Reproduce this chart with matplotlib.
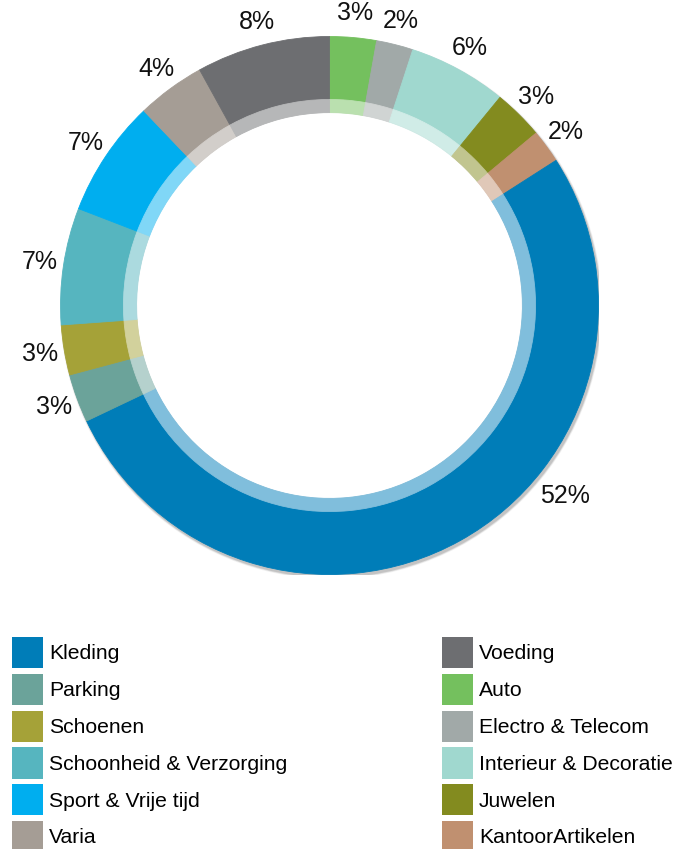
import matplotlib
matplotlib.use("Agg")
import matplotlib.pyplot as plt
from matplotlib.patches import Patch, Circle
import matplotlib.colors as mcolors
import numpy as np

plt.rcParams['font.family'] = ['Liberation Sans', 'DejaVu Sans']

# Legend order
categories = ["Kleding", "Parking", "Schoenen", "Schoonheid & Verzorging",
              "Sport & Vrije tijd", "Varia", "Voeding", "Auto",
              "Electro & Telecom", "Interieur & Decoratie", "Juwelen",
              "KantoorArtikelen"]
values = [51.9, 2.9, 3.0, 7.0, 7.0, 4.1, 8.0, 2.8, 2.2, 5.9, 3.0, 2.0]
labels = ["52%", "3%", "3%", "7%", "7%", "4%", "8%", "3%", "2%", "6%", "3%", "2%"]
colors = ["#007DB8", "#6BA39A", "#A5A238", "#56B5BF", "#00AEEF", "#A59D95",
          "#6D6E71", "#74C05E", "#A1A9A8", "#A0D8CF", "#838B1F", "#C09070"]

# label placement tweak (style): category -> (angle in degrees, radius)
label_override = {"Kleding": (-39.0, 1.124)}

# Pie drawing order: clockwise starting at top with "Auto"
order = list(range(7, 12)) + list(range(0, 7))
pv = [values[i] for i in order]
pc = [colors[i] for i in order]
pl = [labels[i] for i in order]
pn = [categories[i] for i in order]


def lighten(c, f=0.5):
    r, g, b = mcolors.to_rgb(c)
    return (r + (1 - r) * f, g + (1 - g) * f, b + (1 - b) * f)


pc_light = [lighten(c) for c in pc]

R_OUT = 269.0
fig = plt.figure(figsize=(6.81, 8.49), dpi=100)
cx, cy = 329.5, 305.5
ax = fig.add_axes([(cx - R_OUT) / 681, 1 - (cy + R_OUT) / 849,
                   2 * R_OUT / 681, 2 * R_OUT / 849])

# soft drop shadow
for dr, a in [(0.016, 0.05), (0.011, 0.08), (0.006, 0.12)]:
    ax.add_patch(Circle((0.006, -0.009), 1.0 + dr * 0.5, facecolor="#000000",
                        alpha=a, edgecolor="none", zorder=0))
ax.add_patch(Circle((0, 0), 0.717, facecolor="white", edgecolor="none", zorder=0.5))

d_in = 0.766
l_in = 0.717
wedges, texts = ax.pie(pv, colors=pc, startangle=90, counterclock=False,
                       radius=1.0, labels=pl, labeldistance=1.09,
                       wedgeprops=dict(width=1.0 - d_in, linewidth=0.6),
                       textprops=dict(fontsize=18, color="#111111"))
for w in wedges:
    w.set_edgecolor(w.get_facecolor())
    w.set_zorder(2)
for t, name in zip(texts, pn):
    t.set_horizontalalignment("center")
    t.set_verticalalignment("center")
    if name in label_override:
        ang, rr = label_override[name]
        t.set_position((rr * np.cos(np.radians(ang)), rr * np.sin(np.radians(ang))))

wl, _ = ax.pie(pv, colors=pc_light, startangle=90, counterclock=False,
               radius=d_in, wedgeprops=dict(width=d_in - l_in, linewidth=0.6))
for w in wl:
    w.set_edgecolor(w.get_facecolor())
    w.set_zorder(2)

ax.set_xlim(-1, 1)
ax.set_ylim(-1, 1)
ax.set_aspect("equal")
ax.axis("off")

handles = [Patch(facecolor=c, edgecolor="none") for c in colors]
fig.legend(handles, categories, ncol=2, loc="upper left",
           bbox_to_anchor=(12 / 681, 1 - 637 / 849), frameon=False,
           fontsize=15.2, handlelength=1.47, handleheight=1.89,
           handletextpad=0.3, labelspacing=0.27, columnspacing=7.3,
           borderpad=0, borderaxespad=0)

fig.savefig("out.png", dpi=100)
